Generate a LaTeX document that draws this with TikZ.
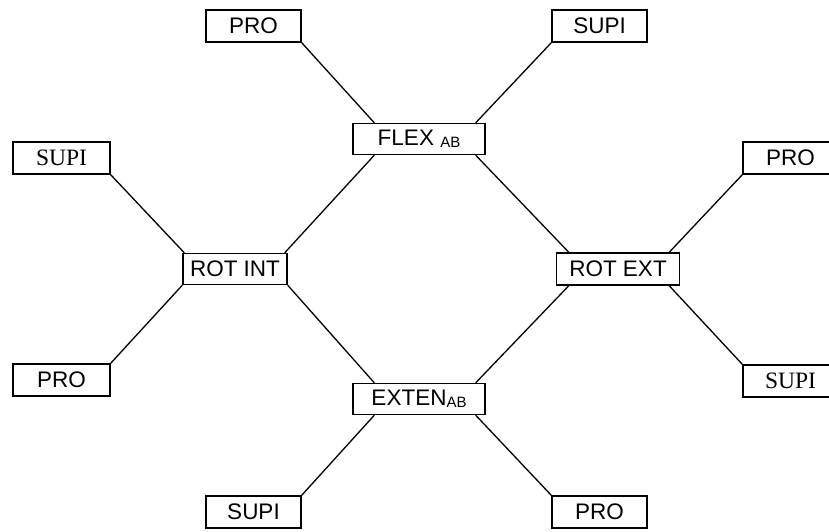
\documentclass[tikz,border=0pt]{standalone}
\usepackage{fontspec}
\setmainfont{Liberation Sans}
\newfontfamily\timesfont{Liberation Serif}
\begin{document}
\begin{tikzpicture}[x=1pt,y=-1pt,
  box/.style={draw,line width=1.3pt,inner sep=0pt,minimum height=32pt,
    font=\fontsize{22.5}{24}\selectfont},
  serifbox/.style={box,font=\timesfont\fontsize{23.5}{24}\selectfont},
  link/.style={line width=1.3pt}]
\clip (0,0) rectangle (829,531);
\newcommand{\subab}{\raisebox{-2pt}{\fontsize{15}{15}\selectfont AB}}
% nodes
\node[box,minimum width=95pt] (pro1) at (253.5,26) {PRO};
\node[box,minimum width=95pt] (supi1) at (599.5,26) {SUPI};
\node[box,minimum width=132pt,minimum height=31pt] (flex) at (419,139) {FLEX \subab};
\node[serifbox,minimum width=97pt] (supi2) at (61.5,158) {SUPI};
\node[box,minimum width=95pt] (pro2) at (790.5,158) {PRO};
\node[box,minimum width=104pt,minimum height=31pt] (rotint) at (235,269) {ROT INT};
\node[box,minimum width=123pt] (rotext) at (618,269) {ROT EXT};
\node[box,minimum width=97pt] (pro3) at (61.5,380) {PRO};
\node[serifbox,minimum width=95pt] (supi3) at (790.5,381) {SUPI};
\node[box,minimum width=132pt,minimum height=31pt] (exten) at (419,399) {EXTEN\subab};
\node[box,minimum width=95pt] (supi4) at (253.5,512) {SUPI};
\node[box,minimum width=95pt] (pro4) at (599.5,512) {PRO};
% connectors
\draw[link] (pro1.south east) -- ([xshift=22pt]flex.north west);
\draw[link] (supi1.south west) -- ([xshift=-10pt]flex.north east);
\draw[link] ([xshift=22pt]flex.south west) -- ([xshift=-3pt]rotint.north east);
\draw[link] ([xshift=-10pt]flex.south east) -- ([xshift=13pt]rotext.north west);
\draw[link] (supi2.south east) -- ([xshift=2pt]rotint.north west);
\draw[link] (pro2.south west) -- ([xshift=-11pt]rotext.north east);
\draw[link] (rotint.south west) -- (pro3.north east);
\draw[link] (rotint.south east) -- ([xshift=22pt]exten.north west);
\draw[link] ([xshift=13pt]rotext.south west) -- ([xshift=-10pt]exten.north east);
\draw[link] ([xshift=-11pt]rotext.south east) -- (supi3.north west);
\draw[link] ([xshift=22pt]exten.south west) -- (supi4.north east);
\draw[link] ([xshift=-10pt]exten.south east) -- (pro4.north west);
\end{tikzpicture}
\end{document}
